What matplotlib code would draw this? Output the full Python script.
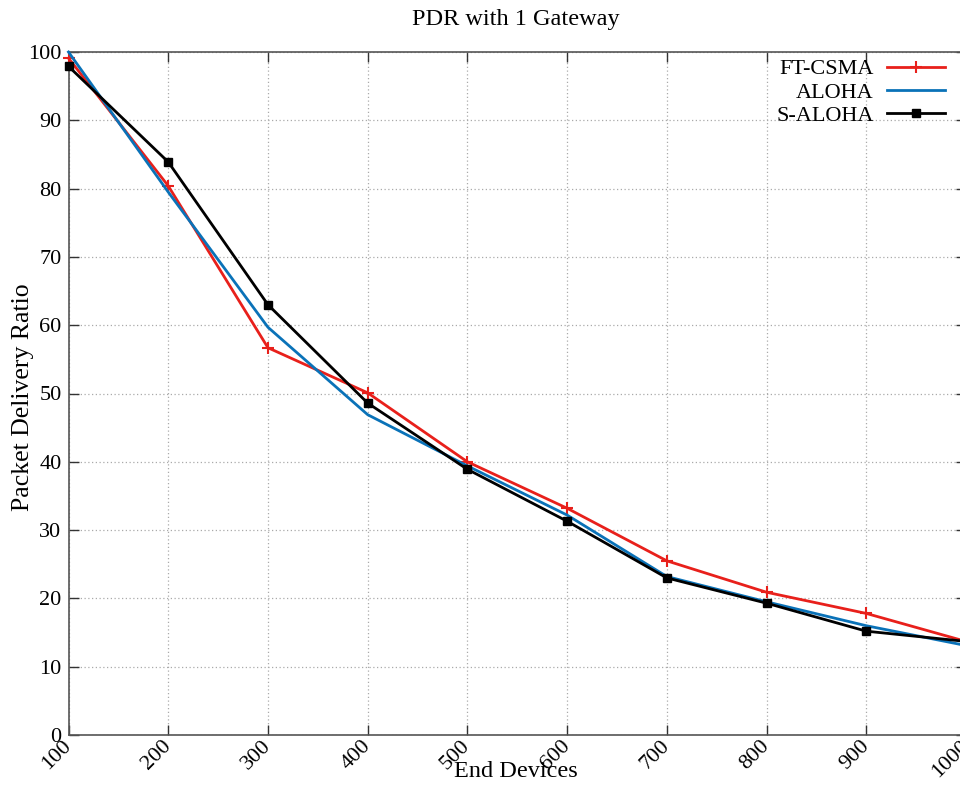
import matplotlib
matplotlib.use("Agg")
import matplotlib.pyplot as plt

devices = [100, 200, 300, 400, 500, 600, 700, 800, 900, 1000]
ft_csma = [99.1, 80.4, 56.7, 50.1, 40.0, 33.2, 25.5, 20.9, 17.8, 13.7]
aloha = [100.0, 79.5, 59.7, 46.9, 39.4, 32.2, 23.2, 19.5, 16.0, 13.1]
s_aloha = [97.9, 83.9, 63.0, 48.6, 38.9, 31.3, 23.0, 19.3, 15.2, 13.7]
yticks = list(range(0, 101, 10))

plt.rcParams['font.family'] = ['Liberation Serif', 'DejaVu Serif']

fig = plt.figure(figsize=(9.6, 7.85), dpi=100)
L, R, B, T = 68.5 / 960, 966 / 960, 1 - 735 / 785, 1 - 52 / 785
ax = fig.add_axes([L, B, R - L, T - B])

ax.plot(devices, ft_csma, color='#e8201b', lw=2.0, marker='+', ms=8, mew=1.5, label='FT-CSMA', clip_on=False, zorder=3)
ax.plot(devices, aloha, color='#0a72b8', lw=2.0, label='ALOHA', clip_on=False, zorder=3)
ax.plot(devices, s_aloha, color='black', lw=2.0, marker='s', ms=6, label='S-ALOHA', clip_on=False, zorder=4)

ax.set_xlim(100, 1000)
ax.set_ylim(0, 100)
ax.set_xticks(devices)
ax.set_yticks(yticks)
ax.set_xticklabels([str(d) for d in devices], rotation=45, ha='right', va='center',
                   rotation_mode='anchor', fontsize=16)
ax.set_yticklabels([str(v) for v in yticks], fontsize=16)
ax.tick_params(direction='in', length=7, width=1, top=True, right=True, color='#333333')
ax.tick_params(axis='x', pad=6)
ax.tick_params(axis='y', pad=5)
ax.grid(True, linestyle=(0, (1, 2)), color='#aaaaaa', lw=0.9)
for s in ax.spines.values():
    s.set_color('#555555')
    s.set_linewidth(1.2)

fig.text(516 / 960, 1 - 25 / 785, 'PDR with 1 Gateway', ha='center', va='baseline', fontsize=17.5)
fig.text(516 / 960, 1 - 777 / 785, 'End Devices', ha='center', va='baseline', fontsize=17.5)
fig.text(29 / 960, 1 - 397 / 785, 'Packet Delivery Ratio', ha='center', va='baseline', rotation=90,
         rotation_mode='anchor', fontsize=18.5)

leg = ax.legend(loc='upper right', bbox_to_anchor=(954 / 960, 1 - 50 / 785), bbox_transform=fig.transFigure,
                frameon=False, markerfirst=False, fontsize=16, handlelength=2.6, labelspacing=0.12,
                handletextpad=0.6, borderaxespad=0)
for t in leg.get_texts():
    t.set_ha('right')

fig.savefig('out.png', dpi=100)
